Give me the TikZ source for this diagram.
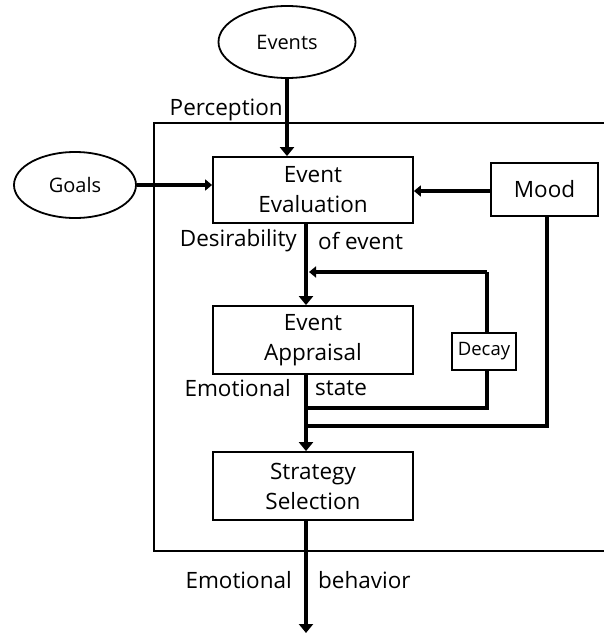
\documentclass[tikz,border=0pt]{standalone}
\usepackage{fontspec}
\setmainfont{Open Sans}
\usetikzlibrary{arrows.meta,shapes.geometric}
\begin{document}
\begin{tikzpicture}[x=1pt,y=-1pt,
  every node/.style={font=\fontsize{22.5}{28}\selectfont, text=black},
  box/.style={draw, line width=1.8pt, rectangle, align=center, inner sep=0pt},
  oval/.style={draw, line width=1.8pt, ellipse, inner sep=0pt, font=\fontsize{20}{24}\selectfont},
  thick arr/.style={line width=4.5pt, -{Triangle[length=9pt,width=14pt]}},
  thick line/.style={line width=4.5pt},
  mid arr/.style={line width=3.5pt, -{Triangle[length=7pt,width=11pt]}},
  lbl/.style={inner sep=0pt}]
\useasboundingbox (0,0) rectangle (604,634);
% perception frame
\draw[line width=1.8pt] (604,123) -- (154,123) -- (154,551) -- (604,551);
\node[lbl, anchor=east] (perc) at (283,110) {Perception};
% nodes
\node[oval, minimum width=137pt, minimum height=72pt] (events) at (287,42) {Events};
\node[oval, minimum width=122pt, minimum height=66pt] (goals) at (75,185) {Goals};
\node[box, minimum width=200pt, minimum height=66pt] (ev) at (313,190) {Event\\[2pt]Evaluation};
\node[box, minimum width=107pt, minimum height=53pt] (mood) at (544.5,189.5) {Mood};
\node[box, minimum width=200pt, minimum height=68pt] (ap) at (313,340) {Event\\[2pt]Appraisal};
\node[box, minimum width=64pt, minimum height=37pt, font=\fontsize{18.5}{22}\selectfont] (decay) at (484,351.5) {Decay};
\node[box, minimum width=200pt, minimum height=68pt] (ss) at (313,486) {Strategy\\[2pt]Selection};
% helper coordinates
\coordinate (vx) at (306,0);
\coordinate (loopR) at (487,272);
\coordinate (loopL) at (306,272);
\coordinate (decR) at (487,408);
\coordinate (decL) at (306,408);
\coordinate (moodR) at (547,426);
\coordinate (moodL) at (306,426);
\coordinate (endout) at (306,633);
% connectors
\draw[thick arr] (events.south -| events) -- (ev.north -| events);
\draw[mid arr] (goals.east) -- (ev.west |- goals.east);
\draw[mid arr] (mood.west |- 0,191) -- (ev.east |- 0,191);
\draw[thick arr] (ev.south -| vx) -- (ap.north -| vx);
\draw[thick line] (decay.north -| loopR) -- (loopR);
\draw[mid arr] (loopR) -- ([xshift=3pt]loopL);
\draw[thick line] (decay.south -| decR) -- (decR) -- (decL);
\draw[thick line] (mood.south -| moodR) -- (moodR) -- (moodL);
\draw[thick arr] (ap.south -| vx) -- (ss.north -| vx);
\draw[thick arr] (ss.south -| vx) -- (endout);
% labels
\node[lbl, anchor=east] (d1) at (297,241) {Desirability};
\node[lbl, anchor=west] (d2) at (318,241) {of event};
\node[lbl, anchor=east] (e1) at (291,388) {Emotional};
\node[lbl, anchor=west] (e2) at (315,388) {state};
\node[lbl, anchor=east] (b1) at (292,580) {Emotional};
\node[lbl, anchor=west] (b2) at (318,580) {behavior};
\end{tikzpicture}
\end{document}
